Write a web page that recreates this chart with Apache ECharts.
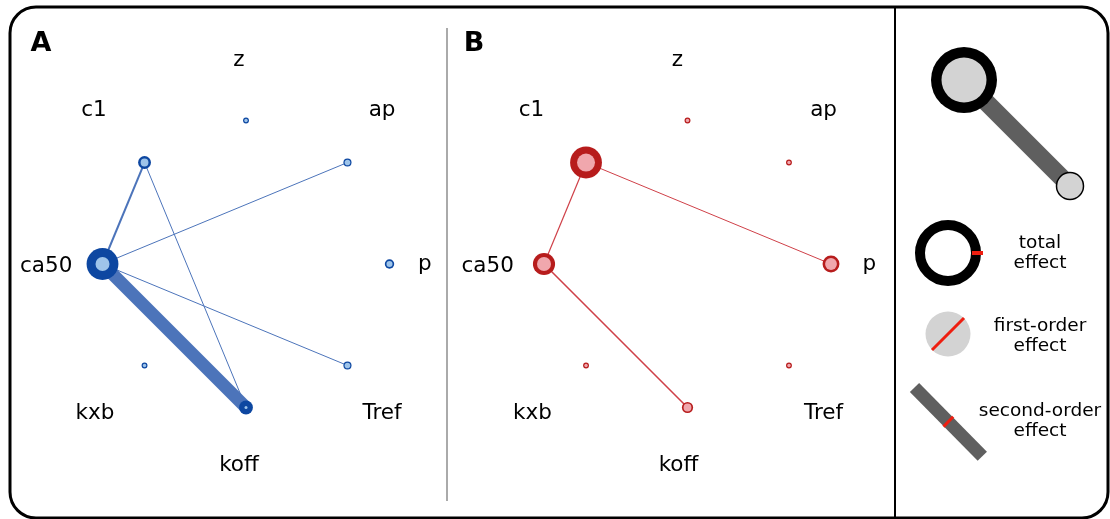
<!DOCTYPE html>
<html>
<head>
<meta charset="utf-8">
<script src="https://cdn.jsdelivr.net/npm/echarts@6/dist/echarts.min.js"></script>
<style>
  html, body { margin: 0; padding: 0; background: #ffffff; }
  #chart { width: 1110px; height: 519px; }
</style>
</head>
<body>
<div id="chart"></div>
<script>
// Parameters, in order around the circle (clockwise from the top)
const params = ['z', 'ap', 'p', 'Tref', 'koff', 'kxb', 'ca50', 'c1'];

// Panel A: total-effect and first-order indices
const totalA = [0.02, 0.07, 0.10, 0.07, 0.20, 0.02, 0.61, 0.18];
const firstA = [0.01, 0.06, 0.07, 0.06, 0.00, 0.01, 0.25, 0.11];
// Panel A: second-order interactions
const pairsA = [['ca50', 'koff'], ['ca50', 'c1'], ['c1', 'koff'], ['ca50', 'ap'], ['ca50', 'Tref']];
const secondA = [0.30, 0.03, 0.005, 0.005, 0.005];

// Panel B: total-effect and first-order indices
const totalB = [0.02, 0.02, 0.27, 0.02, 0.14, 0.02, 0.39, 0.61];
const firstB = [0.01, 0.01, 0.20, 0.01, 0.11, 0.01, 0.25, 0.34];
// Panel B: second-order interactions
const pairsB = [['c1', 'ca50'], ['c1', 'p'], ['ca50', 'koff']];
const secondB = [0.01, 0.005, 0.02];

// Legend captions
const legendTexts = ['total\neffect', 'first-order\neffect', 'second-order\neffect'];
const panelTitles = ['A', 'B'];

// ---- styling ----
const FONT = 'DejaVu Sans';
const NODE_R = 1;        // radius of the node ring (radius-axis units)
const LABEL_R = 1.42;    // radius of the name ring
const RADIUS_MAX = 1.5;
const UNIT_PX = 143.5;   // pixels per radius unit
// per-panel pixel nudges for the parameter names
const labelNudge = [
  { z: [-7, 0], ap: [-8, -9], p: [-25, 0], Tref: [-8, 5],
    koff: [-7, -2], kxb: [-7, 5], ca50: [4, 2], c1: [-8, -9] },
  { z: [-10, 0], ap: [-8, -9], p: [-22, 0], Tref: [-8, 5],
    koff: [-9, -2], kxb: [-11, 5], ca50: [4, 2], c1: [-12, -9] }
];
const outerSize = v => 5 + 44 * v;
const innerSize = v => 3 + 44 * v;
const edgeWidth = v => 0.8 + 40 * v;

const themes = [
  { dark: '#0d47a1', light: '#9ec4ea', edge: '#4c74ba' },
  { dark: '#b71c1c', light: '#f0a7ad', edge: '#cf4048' }
];

function panelSeries(pi, total, first, pairs, second) {
  const t = themes[pi];
  const out = [];
  pairs.forEach((pr, k) => {
    out.push({
      type: 'line', coordinateSystem: 'polar', polarIndex: pi,
      data: [[NODE_R, pr[0]], [NODE_R, pr[1]]],
      symbol: 'none', silent: true, clip: false, z: 1,
      lineStyle: { color: t.edge, width: edgeWidth(second[k]), cap: 'butt', opacity: 1 }
    });
  });
  out.push({
    type: 'scatter', coordinateSystem: 'polar', polarIndex: pi, silent: true, z: 2,
    data: params.map((n, i) => [NODE_R, n, total[i]]),
    symbol: 'circle', symbolSize: v => outerSize(v[2]),
    itemStyle: { color: t.dark, opacity: 1 }
  });
  out.push({
    type: 'scatter', coordinateSystem: 'polar', polarIndex: pi, silent: true, z: 3,
    data: params.map((n, i) => [NODE_R, n, first[i]]),
    symbol: 'circle', symbolSize: v => innerSize(v[2]),
    itemStyle: { color: t.light, opacity: 1 }
  });
  out.push({
    type: 'scatter', coordinateSystem: 'polar', polarIndex: pi, silent: true, z: 4,
    data: params.map(n => ({
      value: [LABEL_R, n],
      label: { offset: labelNudge[pi][n] }
    })),
    symbolSize: 0,
    itemStyle: { opacity: 1 },
    label: {
      show: true, position: 'inside', color: '#000', opacity: 1,
      fontFamily: FONT, fontSize: 21.5,
      formatter: p => params[p.dataIndex]
    }
  });
  return out;
}

const hiddenAxis = {
  axisLine: { show: false }, axisTick: { show: false },
  axisLabel: { show: false }, splitLine: { show: false }, splitArea: { show: false }
};

const centers = [[246, 264], [687.5, 264]];

const chart = echarts.init(document.getElementById('chart'), null, { renderer: 'canvas' });

const RED = '#ee1e10';
const GREY = '#5f5f5f';
const LIGHTGREY = '#d3d3d3';

// categories sit at band centres; rotating the start by half a band puts 'z' at the top
const HALF_BAND = 360 / params.length / 2;

chart.setOption({
  animation: false,
  backgroundColor: '#ffffff',
  polar: centers.map(c => ({ center: c, radius: UNIT_PX * RADIUS_MAX })),
  angleAxis: centers.map((c, i) => Object.assign({
    polarIndex: i, type: 'category', data: params,
    boundaryGap: true, startAngle: 90 + HALF_BAND, clockwise: true
  }, hiddenAxis)),
  radiusAxis: centers.map((c, i) => Object.assign({
    polarIndex: i, type: 'value', min: 0, max: RADIUS_MAX
  }, hiddenAxis)),
  series: [
    ...panelSeries(0, totalA, firstA, pairsA, secondA),
    ...panelSeries(1, totalB, firstB, pairsB, secondB)
  ],
  graphic: [
    // frame and dividers
    { type: 'rect', shape: { x: 10, y: 7, width: 1098, height: 511, r: 26 },
      style: { fill: 'none', stroke: '#000', lineWidth: 3 }, z: 10 },
    { type: 'line', shape: { x1: 895, y1: 7, x2: 895, y2: 519 },
      style: { stroke: '#000', lineWidth: 2 }, z: 10 },
    { type: 'line', shape: { x1: 447, y1: 28, x2: 447, y2: 501 },
      style: { stroke: '#aaaaaa', lineWidth: 2 }, z: 10 },
    // panel letters
    { type: 'text', x: 41, y: 44, z: 10,
      style: { text: panelTitles[0], font: 'bold 27px "DejaVu Sans"', fill: '#000', align: 'center', verticalAlign: 'middle' } },
    { type: 'text', x: 474, y: 44, z: 10,
      style: { text: panelTitles[1], font: 'bold 27px "DejaVu Sans"', fill: '#000', align: 'center', verticalAlign: 'middle' } },
    // key: two nodes joined by an edge
    { type: 'line', shape: { x1: 964, y1: 80, x2: 1070, y2: 186 },
      style: { stroke: GREY, lineWidth: 18 }, z: 10 },
    { type: 'circle', shape: { cx: 964, cy: 80, r: 33 }, style: { fill: '#000' }, z: 11 },
    { type: 'circle', shape: { cx: 964, cy: 80, r: 22.5 }, style: { fill: LIGHTGREY }, z: 12 },
    { type: 'circle', shape: { cx: 1070, cy: 186, r: 13.5 },
      style: { fill: LIGHTGREY, stroke: '#000', lineWidth: 1.5 }, z: 12 },
    // key: total effect
    { type: 'circle', shape: { cx: 948, cy: 253, r: 28 },
      style: { fill: '#fff', stroke: '#000', lineWidth: 10 }, z: 10 },
    { type: 'line', shape: { x1: 972, y1: 253, x2: 983, y2: 253 },
      style: { stroke: RED, lineWidth: 4 }, z: 11 },
    // key: first-order effect
    { type: 'circle', shape: { cx: 948, cy: 334, r: 22.5 }, style: { fill: LIGHTGREY }, z: 10 },
    { type: 'line', shape: { x1: 932, y1: 350, x2: 964, y2: 318 },
      style: { stroke: RED, lineWidth: 3 }, z: 11 },
    // key: second-order effect
    { type: 'line', shape: { x1: 914.5, y1: 387.5, x2: 982.3, y2: 456.3 },
      style: { stroke: GREY, lineWidth: 13 }, z: 10 },
    { type: 'line', shape: { x1: 943.5, y1: 426.6, x2: 953.2, y2: 416.8 },
      style: { stroke: RED, lineWidth: 3 }, z: 11 },
    // key captions
    ...legendTexts.map((s, i) => ({
      type: 'text', x: 1040, y: [253.5, 336.5, 421.5][i], z: 10,
      style: { text: s, font: '18.5px "DejaVu Sans"', lineHeight: 20, fill: '#000',
               align: 'center', verticalAlign: 'middle' }
    }))
  ]
});
</script>
</body>
</html>
